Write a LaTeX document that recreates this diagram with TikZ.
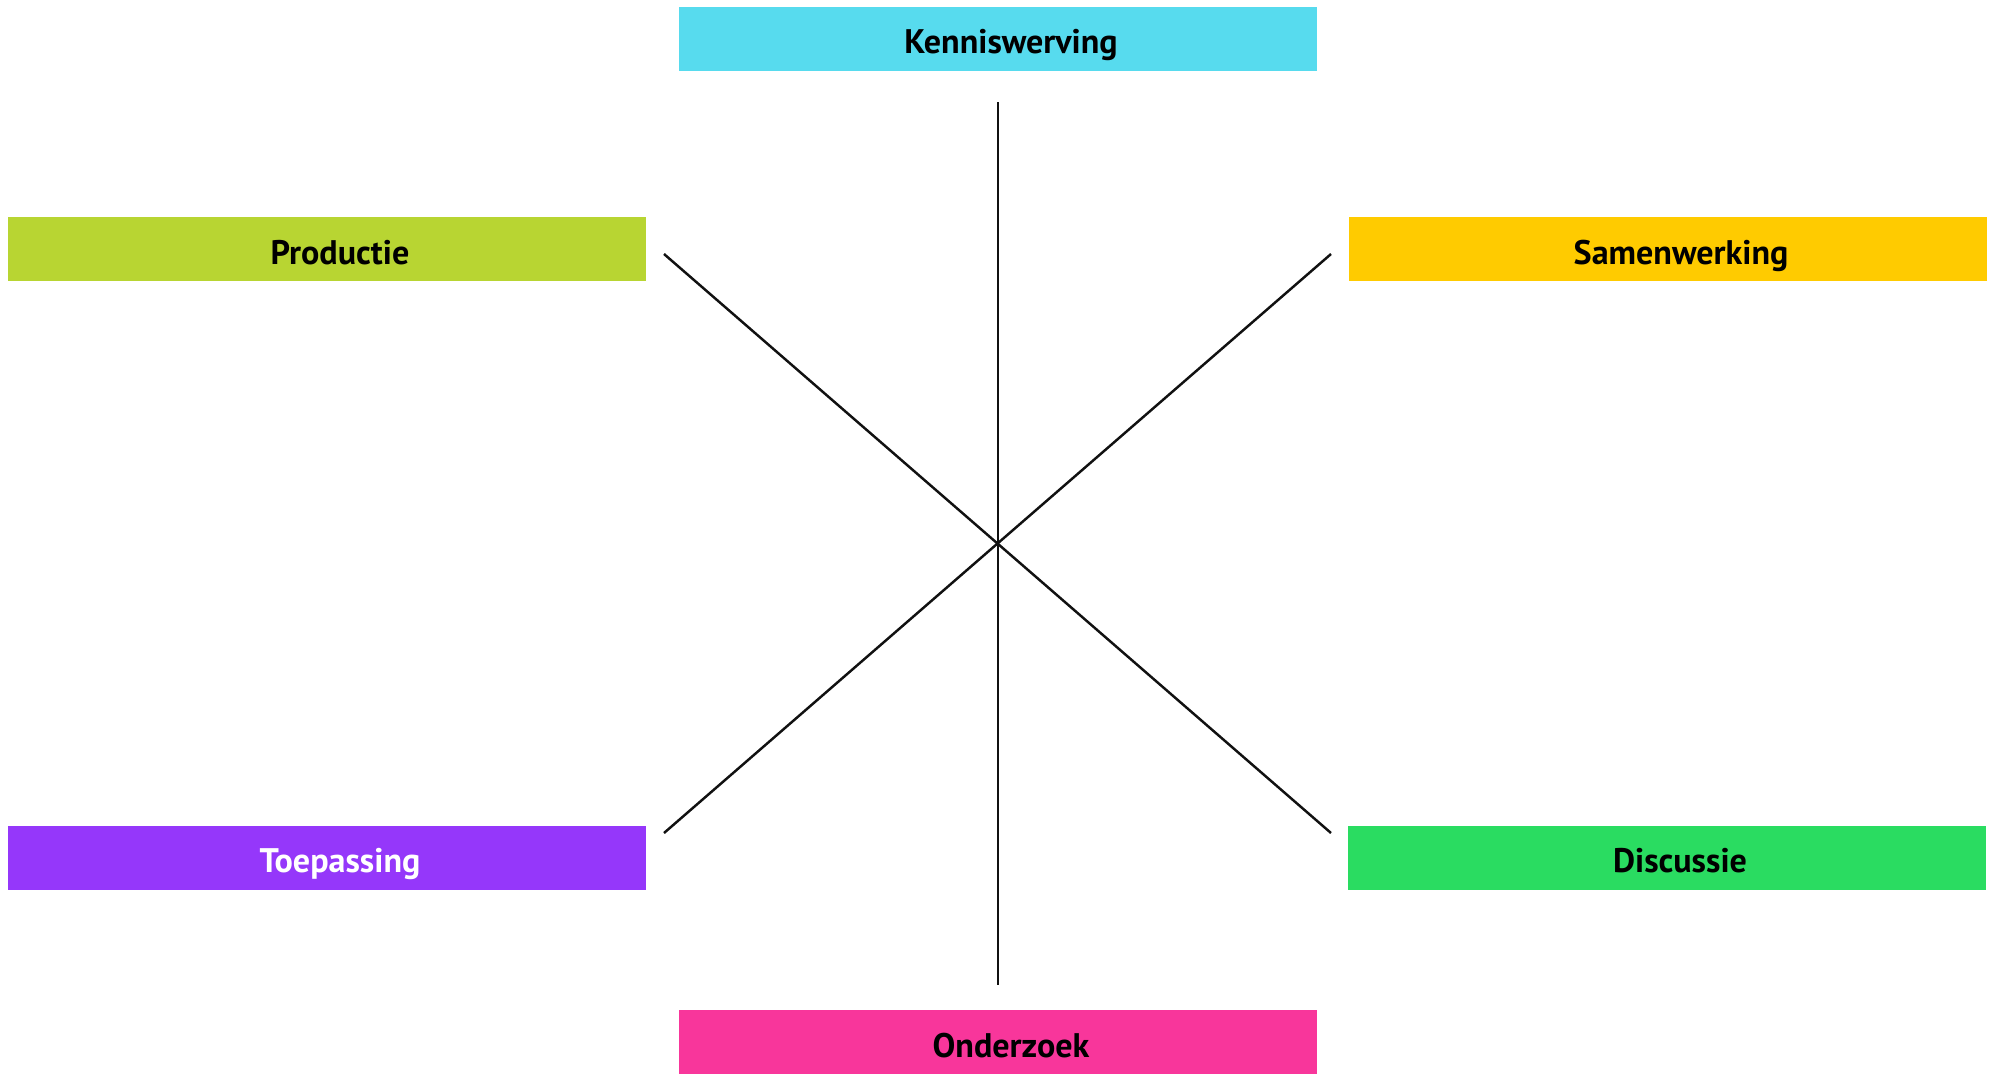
\documentclass[tikz,border=0pt]{standalone}
\usepackage{fontspec}
\setmainfont{PT Sans}
\definecolor{dgCyan}{HTML}{57DBEE}
\definecolor{dgLime}{HTML}{B8D532}
\definecolor{dgYellow}{HTML}{FFCB00}
\definecolor{dgPurple}{HTML}{9537FA}
\definecolor{dgGreen}{HTML}{2ADC61}
\definecolor{dgPink}{HTML}{F8369B}
\definecolor{dgLine}{HTML}{111111}
\usetikzlibrary{calc,positioning}

\begin{document}
\begin{tikzpicture}[
  x=0.02cm, y=-0.02cm,
  block/.style={fill=#1, text=black, minimum width=12.76cm, minimum height=1.28cm,
    inner sep=0pt, text height=0.6cm, text depth=0cm,
    execute at begin node=\hspace*{0.52cm},
    font=\fontsize{19.4}{21}\selectfont\bfseries},
  spoke/.style={draw=dgLine, line width=1.4pt}
]
  \useasboundingbox (0,0) rectangle (1991,1073);
  \node[block=dgCyan] (kennis) at (998,38.5) {Kenniswerving};
  \node[block=dgLime] (productie) at (327,249) {Productie};
  \node[block=dgYellow] (samen) at (1668,249) {Samenwerking};
  \node[block=dgPurple, text=white] (toepassing) at (327,857.5) {Toepassing};
  \node[block=dgGreen] (discussie) at (1667,857.5) {Discussie};
  \node[block=dgPink] (onderzoek) at (998,1042) {Onderzoek};

  % spoke ends
  \coordinate (top) at (998,102);
  \coordinate (bottom) at (998,985);
  \coordinate (upleft) at (664,254);
  \coordinate (upright) at (1331,254);
  \coordinate (lowleft) at (664,833);
  \coordinate (lowright) at (1331,833);

  \draw[spoke] (top) -- (bottom);
  \draw[spoke] (upleft) -- (lowright);
  \draw[spoke] (upright) -- (lowleft);
\end{tikzpicture}
\end{document}
